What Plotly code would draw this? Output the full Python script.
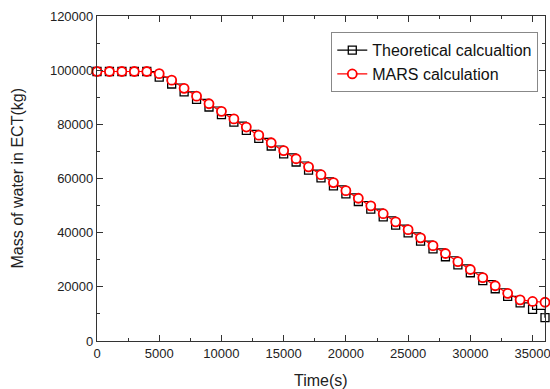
import plotly.graph_objects as go

time_s = [0, 1000, 2000, 3000, 4000, 5000, 6000, 7000, 8000, 9000, 10000,
          11000, 12000, 13000, 14000, 15000, 16000, 17000, 18000, 19000, 20000,
          21000, 22000, 23000, 24000, 25000, 26000, 27000, 28000, 29000, 30000,
          31000, 32000, 33000, 34000, 35000, 36000]

theoretical = [99500, 99500, 99500, 99500, 99500, 97400, 94900, 92000, 89200,
               86400, 83600, 80800, 77800, 74800, 72000, 69100, 66100, 63100,
               60200, 57300, 54300, 51500, 48700, 45800, 42800, 39900, 36900,
               34000, 31100, 28100, 25200, 22300, 19300, 16500, 14100, 11700,
               8600]

mars = [99500, 99500, 99500, 99500, 99500, 98700, 96300, 93300, 90400, 87600,
        84800, 82000, 79000, 76000, 73200, 70300, 67300, 64300, 61400, 58500,
        55500, 52700, 49900, 47000, 44000, 41100, 38100, 35200, 32300, 29300,
        26400, 23400, 20400, 17600, 15200, 14600, 14300]

font = "Liberation Sans, Arial, sans-serif"

fig = go.Figure()
fig.add_trace(go.Scatter(
    x=time_s, y=theoretical, name="Theoretical calcualtion",
    mode="lines+markers", line=dict(color="black", width=1.2, shape="hv"),
    marker=dict(symbol="square-open", size=8, color="black",
                line=dict(color="black", width=1.3)),
    cliponaxis=False))
fig.add_trace(go.Scatter(
    x=time_s, y=mars, name="MARS calculation",
    mode="lines+markers", line=dict(color="#ff0000", width=1.2),
    marker=dict(symbol="circle", size=9, color="white",
                line=dict(color="#ff0000", width=1.8)),
    cliponaxis=False))

axis_common = dict(
    showline=True, linecolor="#333333", linewidth=1.2, mirror="ticks",
    ticks="inside", tickcolor="#333333", tickwidth=1.2, ticklen=6,
    showgrid=False, zeroline=False, tickformat="d",
    ticklabeloverflow="allow",
    tickfont=dict(family=font, size=13, color="#222222"),
    minor=dict(ticks="inside", ticklen=3, tickcolor="#333333", tickwidth=1.2),
)

fig.update_xaxes(range=[0, 36000], tick0=0, dtick=5000,
                 minor_dtick=2500, automargin=False,
                 **axis_common)
fig.update_yaxes(range=[0, 120000], tick0=0, dtick=20000,
                 minor_dtick=10000, automargin=False,
                 **axis_common)

fig.update_layout(
    width=550, height=389,
    margin=dict(l=97, r=5, t=16, b=48),
    plot_bgcolor="white", paper_bgcolor="white",
    showlegend=True,
    legend=dict(x=0.985, y=0.95, xanchor="right", yanchor="top",
                bgcolor="white", bordercolor="#888888", borderwidth=1,
                font=dict(family=font, size=16, color="#111111"),
                tracegroupgap=0, itemwidth=30),
    annotations=[
        dict(text="Time(s)", xref="paper", yref="paper", x=0.5, y=0,
             yshift=-39, xanchor="center", yanchor="middle", showarrow=False,
             font=dict(family=font, size=16, color="#222222")),
        dict(text="Mass of water in ECT(kg)", xref="paper", yref="paper",
             x=0, y=0.5, xshift=-80, xanchor="center", yanchor="middle",
             textangle=-90, showarrow=False,
             font=dict(family=font, size=16, color="#222222")),
    ],
)

fig.write_html("out.html")
